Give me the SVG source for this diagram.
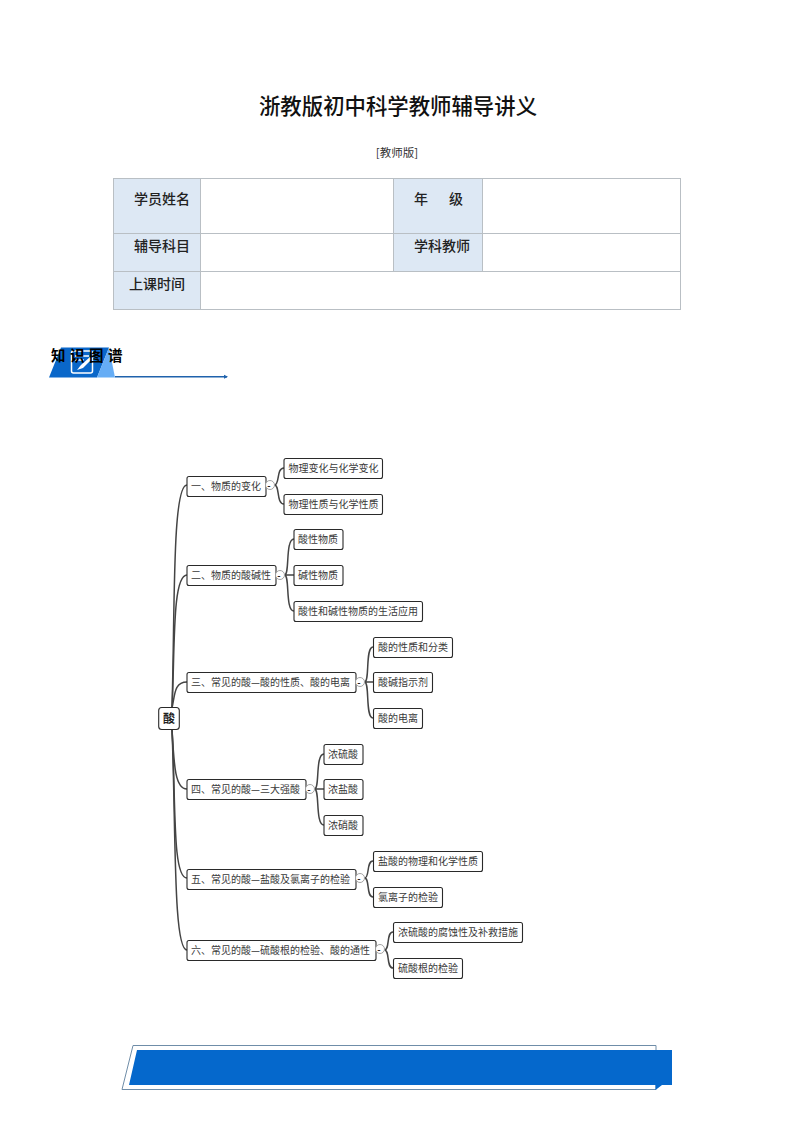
<svg xmlns="http://www.w3.org/2000/svg" width="794" height="1123" viewBox="0 0 794 1123">
<style>
text{font-family:"Noto Sans CJK SC","Liberation Sans",sans-serif;fill:#222}
.t{font-size:21.4px;text-anchor:middle;fill:#111;font-weight:500}
.s{font-size:11.5px;text-anchor:middle;fill:#333}
.h{font-size:14px;fill:#222;font-weight:500}
.n rect{fill:#fff;stroke:#2a2a2a;stroke-width:1.1}
.n text{font-size:10px;fill:#3a3a3a;dominant-baseline:central}
.n .c{fill:#fff;stroke:#999;stroke-width:.9}
.n .m{font-size:9px;font-weight:700;text-anchor:middle;fill:#222}
.e{fill:none;stroke:#444;stroke-width:1.5}
.cell{fill:#dde8f4}
.g{stroke:#b9bfc4;stroke-width:1;fill:none}
</style>
<defs><marker id="a" markerWidth="5" markerHeight="5" refX="3" refY="2.5" orient="auto" markerUnits="userSpaceOnUse"><path d="M0 .5L4 2.5L0 4.500Z" fill="#1f62ac"/></marker></defs>
<text class="t" x="398" y="114">浙教版初中科学教师辅导讲义</text>
<text class="s" x="397" y="157">[教师版]</text>
<g id="table">
<rect class="cell" x="113" y="178" width="87" height="131"/>
<rect class="cell" x="393" y="178" width="89" height="93"/>
<path class="g" d="M113 178.500H681M113 233.500H681M113 271.500H681M113 309.500H681M113.500 178V310M200.500 178V310M393.500 178V271M482.500 178V271M680.500 178V310"/>
<text class="h" x="134" y="204">学员姓名</text>
<text class="h" x="414" y="204">年</text>
<text class="h" x="449" y="204">级</text>
<text class="h" x="134" y="251">辅导科目</text>
<text class="h" x="414" y="251">学科教师</text>
<text class="h" x="129" y="289">上课时间</text>
</g>
<g id="section-title">
<path d="M49 377.500L61 347.500H109L97 377.500Z" fill="#0a67c9"/>
<path d="M97 377.500L109 347.500L115 377.500Z" fill="#66adf5"/>
<rect x="71.500" y="351" width="21" height="22" rx="2" fill="#0a67c9" stroke="#fff" stroke-width="1.5"/>
<path d="M75 356H89M75 360H84" stroke="#fff" stroke-width="1.300" fill="none"/>
<path d="M77 370L81 365L90 357L92 359L83 368Z" fill="#fff"/>
<path d="M115 376.800H227" stroke="#1f62ac" stroke-width="1.6" fill="none" marker-end="url(#a)"/>
<text x="51 70 89 108" y="361" font-size="14.500" font-weight="700" style="fill:#000">知识图谱</text>
</g>
<g id="connectors">
<path class="e" d="M172 708C175 610 172 485 187 485"/>
<path class="e" d="M172 708C175 650 172 575 187 575"/>
<path class="e" d="M172 708C175 695 174 682 187 682"/>
<path class="e" d="M172 729C174 765 175 789 187 789"/>
<path class="e" d="M172 729C176 800 172 878 187 878"/>
<path class="e" d="M172 729C176 830 173 950 187 950"/>
<path class="e" d="M274.500 485C280 485 276 468 284 468M274.500 485C280 485 276 504 284 504"/>
<path class="e" d="M284.500 575C290 575 285 539 294 539M284.500 575H294M284.500 575C290 575 285 611 294 611"/>
<path class="e" d="M364.500 682C370 682 365 647 373 647M364.500 682H373M364.500 682C370 682 365 718 373 718"/>
<path class="e" d="M314.500 789C320 789 315 754 324 754M314.500 789H324M314.500 789C320 789 315 825 324 825"/>
<path class="e" d="M364.500 878C370 878 366 861 373 861M364.500 878C370 878 366 897 373 897"/>
<path class="e" d="M384.500 950C390 950 386 932 393 932M384.500 950C390 950 386 968 393 968"/>
</g>
<g id="root" class="n"><rect x="158.700" y="707.500" width="20.600" height="22" rx="3"/><text x="169" y="717" text-anchor="middle" style="font-size:12px;font-weight:700;fill:#222">酸</text></g>
<g id="n1" class="n"><rect x="187" y="476.500" width="79" height="20" rx="2"/><text x="191" y="485">一、物质的变化</text><circle class="c" cx="270" cy="485" r="4.500"/><text class="m" x="269" y="485">-</text></g>
<g id="n11" class="n"><rect x="284" y="458.500" width="98.500" height="20" rx="2"/><text x="288.500" y="467">物理变化与化学变化</text></g>
<g id="n12" class="n"><rect x="284" y="494.500" width="98.500" height="20" rx="2"/><text x="288.500" y="503">物理性质与化学性质</text></g>
<g id="n2" class="n"><rect x="187" y="565.500" width="89" height="20" rx="2"/><text x="191" y="574">二、物质的酸碱性</text><circle class="c" cx="280" cy="575" r="4.500"/><text class="m" x="279" y="575">-</text></g>
<g id="n21" class="n"><rect x="294" y="529.500" width="49" height="20" rx="2"/><text x="298" y="538">酸性物质</text></g>
<g id="n22" class="n"><rect x="294" y="565.500" width="49" height="20" rx="2"/><text x="298" y="574">碱性物质</text></g>
<g id="n23" class="n"><rect x="294" y="601.500" width="128.500" height="20" rx="2"/><text x="298" y="610">酸性和碱性物质的生活应用</text></g>
<g id="n3" class="n"><rect x="187" y="672.500" width="169" height="20" rx="2"/><text x="191" y="681">三、常见的酸—酸的性质、酸的电离</text><circle class="c" cx="360" cy="682" r="4.500"/><text class="m" x="359" y="682">-</text></g>
<g id="n31" class="n"><rect x="373.500" y="637.500" width="79" height="20" rx="2"/><text x="378" y="646">酸的性质和分类</text></g>
<g id="n32" class="n"><rect x="373.500" y="672.500" width="59" height="20" rx="2"/><text x="378" y="681">酸碱指示剂</text></g>
<g id="n33" class="n"><rect x="373.500" y="708.500" width="49" height="20" rx="2"/><text x="378" y="717">酸的电离</text></g>
<g id="n4" class="n"><rect x="187" y="779.500" width="119" height="20" rx="2"/><text x="191" y="788">四、常见的酸—三大强酸</text><circle class="c" cx="310" cy="789" r="4.500"/><text class="m" x="309" y="789">-</text></g>
<g id="n41" class="n"><rect x="324" y="744.500" width="39" height="20" rx="2"/><text x="328" y="753">浓硫酸</text></g>
<g id="n42" class="n"><rect x="324" y="779.500" width="39" height="20" rx="2"/><text x="328" y="788">浓盐酸</text></g>
<g id="n43" class="n"><rect x="324" y="815.500" width="39" height="20" rx="2"/><text x="328" y="824">浓硝酸</text></g>
<g id="n5" class="n"><rect x="187" y="869.500" width="169" height="20" rx="2"/><text x="191" y="878">五、常见的酸—盐酸及氯离子的检验</text><circle class="c" cx="360" cy="878" r="4.500"/><text class="m" x="359" y="878">-</text></g>
<g id="n51" class="n"><rect x="373.500" y="851.500" width="109" height="20" rx="2"/><text x="378" y="860">盐酸的物理和化学性质</text></g>
<g id="n52" class="n"><rect x="373.500" y="887.500" width="69" height="20" rx="2"/><text x="378" y="896">氯离子的检验</text></g>
<g id="n6" class="n"><rect x="187" y="940.500" width="189" height="20" rx="2"/><text x="191" y="949">六、常见的酸—硫酸根的检验、酸的通性</text><circle class="c" cx="380" cy="949" r="4.500"/><text class="m" x="379" y="949">-</text></g>
<g id="n61" class="n"><rect x="393.500" y="922.500" width="129" height="20" rx="2"/><text x="398" y="931">浓硫酸的腐蚀性及补救措施</text></g>
<g id="n62" class="n"><rect x="393.500" y="958.500" width="69" height="20" rx="2"/><text x="398" y="967">硫酸根的检验</text></g>
<g id="footer-banner">
<path d="M133 1045.500H656V1089.500H122Z" fill="#fff" stroke="#6f8da8" stroke-width="1"/>
<path d="M137 1050H672V1085H662L655.500 1090V1085H129Z" fill="#0568cc"/>
</g>
</svg>
